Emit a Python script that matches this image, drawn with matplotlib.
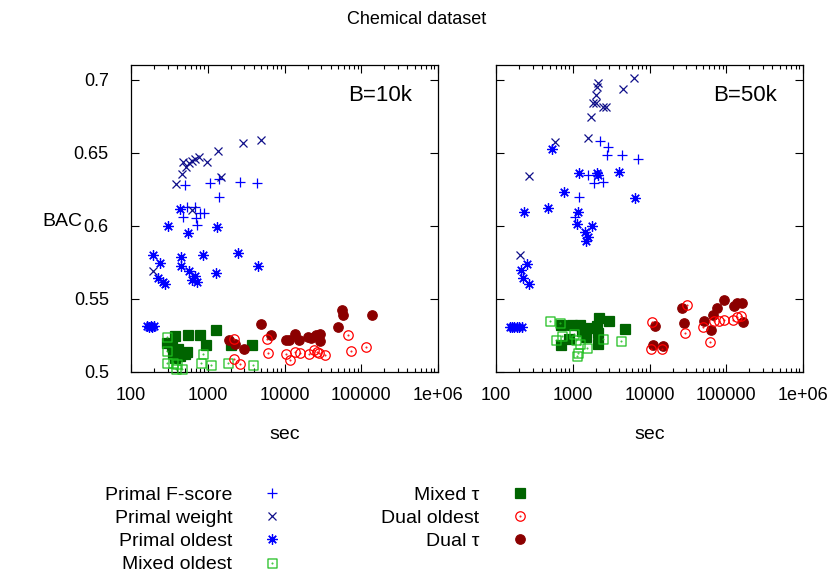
import matplotlib
matplotlib.use('Agg')
import matplotlib.pyplot as plt
from matplotlib.path import Path
from matplotlib.ticker import FuncFormatter, LogLocator, FixedLocator

plt.rcParams['font.family'] = ['Liberation Sans', 'DejaVu Sans']

# ---- B=10k panel: (sec, BAC) per method ----
pf_10k_sec = [506, 1081, 1390, 1416, 2636, 4436, 532, 472, 682, 698, 732, 794, 895]
pf_10k_bac = [0.628, 0.6295, 0.632, 0.6195, 0.6298, 0.6291, 0.6127, 0.6063, 0.6127, 0.6052, 0.6006, 0.609, 0.609]

pw_10k_sec = [386, 467, 472, 517, 570, 630, 689, 777, 970, 1362, 1476, 2858, 4909, 618, 195, 175]
pw_10k_bac = [0.6284, 0.6355, 0.6438, 0.6404, 0.6427, 0.6445, 0.6455, 0.6468, 0.6438, 0.651, 0.6336, 0.6564,
              0.6587, 0.6109, 0.5688, 0.5313]

po_10k_sec = [440, 307, 1321, 548, 195, 444, 877, 2506, 239, 449, 576, 4570, 1283, 227, 682, 618, 731, 259, 280,
              160, 170, 180, 190, 200]
po_10k_bac = [0.6114, 0.600, 0.5991, 0.595, 0.5802, 0.579, 0.5802, 0.5814, 0.5745, 0.5722, 0.5693, 0.5722, 0.5677,
              0.5643, 0.5654, 0.5632, 0.5613, 0.5613, 0.5602, 0.5313, 0.531, 0.5313, 0.531, 0.5313]

mo_10k_sec = [297, 292, 297, 356, 402, 386, 458, 861, 818, 1104, 1858, 3855]
mo_10k_bac = [0.5241, 0.5143, 0.5063, 0.5063, 0.5052, 0.5018, 0.5022, 0.512, 0.5063, 0.5045, 0.5063, 0.5045]

mt_10k_sec = [375, 297, 346, 414, 356, 506, 532, 435, 375, 548, 794, 1283, 950, 2000, 3785]
mt_10k_bac = [0.5245, 0.52, 0.5177, 0.5154, 0.5132, 0.512, 0.5136, 0.5108, 0.5098, 0.5256, 0.525, 0.5286, 0.5188,
              0.5188, 0.5188]

do_10k_sec = [2228, 2208, 2636, 5985, 6050, 10400, 11830, 13870, 15970, 21130, 24320, 26360, 28250, 33820, 67400,
              74500, 117000]
do_10k_bac = [0.5227, 0.5086, 0.5057, 0.5227, 0.5132, 0.512, 0.5079, 0.5138, 0.5127, 0.5125, 0.5149, 0.5136, 0.5132,
              0.5115, 0.5256, 0.5147, 0.5168]

dt_10k_sec = [1914, 2270, 3000, 4950, 6750, 10400, 11480, 13760, 15650, 20500, 22430, 25800, 29400, 29100, 49500,
              55800, 58000, 137000]
dt_10k_bac = [0.5216, 0.5193, 0.5154, 0.5325, 0.525, 0.5218, 0.5218, 0.5259, 0.5218, 0.5241, 0.5234, 0.5252, 0.5261,
              0.5211, 0.5311, 0.5422, 0.5391, 0.5388]

# ---- B=50k panel ----
pf_50k_sec = [2270, 2912, 2825, 4352, 7168, 1596, 2506, 1880, 1220, 1072]
pf_50k_bac = [0.658, 0.6537, 0.6484, 0.6484, 0.6455, 0.6345, 0.6302, 0.6294, 0.6196, 0.6059]

pw_50k_sec = [6300, 4486, 2118, 2055, 1995, 1858, 2015, 2506, 2718, 1733, 1570, 587, 272, 206, 180]
pw_50k_bac = [0.7014, 0.6934, 0.698, 0.695, 0.6898, 0.6837, 0.6837, 0.6814, 0.6814, 0.6745, 0.6598, 0.6573, 0.6341,
              0.5802, 0.5309]

po_50k_sec = [1208, 2055, 2158, 4055, 778, 6486, 481, 234, 1162, 1127, 1770, 1445, 1596, 1489, 256, 212, 227, 267,
              537, 150, 160, 170, 185, 200, 215]
po_50k_bac = [0.6359, 0.6359, 0.6348, 0.637, 0.623, 0.6189, 0.6125, 0.6093, 0.6093, 0.6013, 0.6002, 0.5961, 0.5923,
              0.5893, 0.5741, 0.5695, 0.5643, 0.5604, 0.6523, 0.5309, 0.5309, 0.5309, 0.5309, 0.5309, 0.5309]

mo_50k_sec = [506, 682, 600, 718, 1040, 1094, 1245, 1521, 1162, 1127, 2460, 4227]
mo_50k_bac = [0.5347, 0.5336, 0.5222, 0.5245, 0.5261, 0.5222, 0.5193, 0.5166, 0.5132, 0.5108, 0.5229, 0.5211]

mt_50k_sec = [703, 988, 1245, 1596, 2203, 2972, 4808, 2055, 2118, 2118, 895, 703, 1489, 1309]
mt_50k_bac = [0.532, 0.532, 0.532, 0.5302, 0.5366, 0.5352, 0.5297, 0.5313, 0.5268, 0.5193, 0.5229, 0.5184, 0.5238,
              0.5279]

do_50k_sec = [30600, 10720, 29100, 10400, 14730, 49500, 61700, 69500, 81500, 94800, 124000, 140000, 156000]
do_50k_bac = [0.5461, 0.5343, 0.5268, 0.5159, 0.5154, 0.5306, 0.5204, 0.5347, 0.5352, 0.5359, 0.5359, 0.5374, 0.5386]

dt_50k_sec = [26400, 28500, 11830, 11240, 14900, 52000, 63000, 68100, 76800, 94800, 126800, 140000, 159600, 164500]
dt_50k_bac = [0.5439, 0.5336, 0.5313, 0.5188, 0.5177, 0.5352, 0.529, 0.5393, 0.5439, 0.549, 0.545, 0.5473, 0.5473,
              0.5343]

labels = ['Primal F-score', 'Primal weight', 'Primal oldest', 'Mixed oldest', 'Mixed τ', 'Dual oldest', 'Dual τ']
panel_10k = [(pf_10k_sec, pf_10k_bac), (pw_10k_sec, pw_10k_bac), (po_10k_sec, po_10k_bac), (mo_10k_sec, mo_10k_bac),
             (mt_10k_sec, mt_10k_bac), (do_10k_sec, do_10k_bac), (dt_10k_sec, dt_10k_bac)]
panel_50k = [(pf_50k_sec, pf_50k_bac), (pw_50k_sec, pw_50k_bac), (po_50k_sec, po_50k_bac), (mo_50k_sec, mo_50k_bac),
             (mt_50k_sec, mt_50k_bac), (do_50k_sec, do_50k_bac), (dt_50k_sec, dt_50k_bac)]

# gnuplot-like open markers with a dot in the middle
def dotted(outer, r):
    return Path.make_compound_path(outer, Path.circle((0, 0), r))

box = Path([(-1, -1), (1, -1), (1, 1), (-1, 1), (-1, -1)],
           [Path.MOVETO, Path.LINETO, Path.LINETO, Path.LINETO, Path.CLOSEPOLY])
sq_dot = dotted(box, 0.08)
circ_dot = dotted(Path.circle((0, 0), 1), 0.08)

# marker, color, size, filled, zorder
styles = [
    ('+', '#0000ff', 7, False, 3),
    ('x', '#10108a', 6, False, 3),
    ((8, 2, 0), '#0000ff', 7.5, False, 3),
    (sq_dot, '#1fbf1f', 6.5, False, 4),
    ('s', '#006400', 6.8, True, 2),
    (circ_dot, '#ff0000', 6.8, False, 4),
    ('o', '#8b0000', 6.8, True, 2),
]

fig = plt.figure(figsize=(8.33, 5.75), dpi=100)
ax1 = fig.add_axes([131 / 833, 1 - 372 / 575, 307 / 833, 307 / 575])
ax2 = fig.add_axes([496 / 833, 1 - 372 / 575, 307 / 833, 307 / 575])

handles = []
for ax, panel, tag in [(ax1, panel_10k, 'B=10k'), (ax2, panel_50k, 'B=50k')]:
    for (xs, ys), (mk, col, ms, filled, z), lab in zip(panel, styles, labels):
        h, = ax.plot(xs, ys, linestyle='none', marker=mk, markersize=ms, markeredgewidth=0.9,
                     markeredgecolor=col, markerfacecolor=col if filled else 'none',
                     label=lab, zorder=z, clip_on=False)
        if ax is ax1:
            handles.append(h)
    ax.set_xscale('log')
    ax.set_xlim(100, 1e6)
    ax.set_ylim(0.5, 0.71)
    ax.xaxis.set_major_locator(LogLocator(base=10, numticks=10))
    ax.xaxis.set_minor_locator(LogLocator(base=10, subs=range(2, 10), numticks=20))
    ax.xaxis.set_major_formatter(FuncFormatter(lambda v, p: '%g' % v))
    ax.yaxis.set_major_locator(FixedLocator([0.5, 0.55, 0.6, 0.65, 0.7]))
    ax.yaxis.set_major_formatter(FuncFormatter(lambda v, p: '%g' % v))
    ax.tick_params(which='both', direction='in', top=True, right=True, width=0.8, labelsize=13)
    ax.tick_params(which='major', length=6)
    ax.tick_params(which='minor', length=3)
    ax.tick_params(axis='x', pad=11)
    ax.tick_params(axis='y', pad=16)
    for s in ax.spines.values():
        s.set_linewidth(0.9)
    ax.text(0.914, 0.901, tag, transform=ax.transAxes, ha='right', va='center', fontsize=16)
    ax.set_xlabel('sec', fontsize=14)
    ax.xaxis.set_label_coords(0.5, -0.175)

ax2.tick_params(axis='y', labelleft=False)
ax1.set_ylabel('BAC', rotation=0, fontsize=14, ha='center', va='center')
ax1.yaxis.set_label_coords(-0.225, 0.49)

fig.text(0.5, 1 - 19 / 575, 'Chemical dataset', ha='center', va='center', fontsize=13)

fig.legend(handles=handles, loc='upper left', bbox_to_anchor=(105 / 833, 1 - 486 / 575), ncol=2,
           frameon=False, markerfirst=False, numpoints=1, fontsize=14, borderpad=0, borderaxespad=0,
           handlelength=2.0, handletextpad=1.06, columnspacing=4.6, labelspacing=0.29)

fig.savefig('out.png', dpi=100)
